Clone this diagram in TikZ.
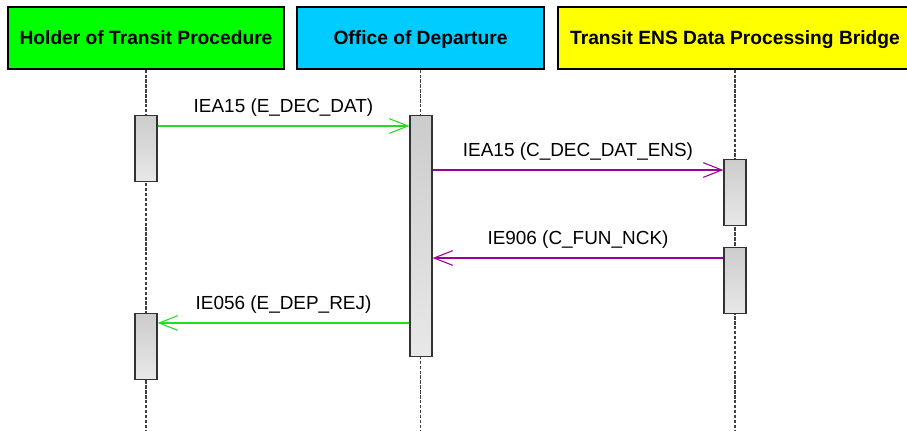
\documentclass[tikz,border=0pt]{standalone}
\usepackage{fontspec}
\setmainfont{Liberation Sans}
\usetikzlibrary{arrows.meta, positioning, calc}
\definecolor{hdrgreen}{HTML}{00FF00}
\definecolor{hdrcyan}{HTML}{00CCFF}
\definecolor{hdryellow}{HTML}{FFFF00}
\definecolor{msggreen}{HTML}{22DD22}
\definecolor{msgpurple}{HTML}{990099}
\definecolor{lifegray}{HTML}{404040}
\newcommand{\pxu}{0.75pt}

\tikzset{
  header/.style={draw=black, line width=0.9pt, minimum height=62*\pxu,
                 inner sep=0pt, text height=1.1em, text depth=0.2em,
                 font=\fontsize{14.4}{17}\selectfont\bfseries},
  actbar/.style={draw=black!80, line width=0.9pt, top color=black!20,
                 bottom color=black!9, minimum width=22*\pxu, anchor=north,
                 inner sep=0pt},
  lifeline/.style={lifegray, line width=0.8pt, dash pattern=on 2.5pt off 1.2pt},
  msg/.style={line width=0.8pt, -{Straight Barb[length=14pt, width=11pt]}},
  msglabel/.style={above=7pt, inner sep=0pt, text=black,
                   font=\fontsize{14.2}{17}\selectfont},
}

\begin{document}
\begin{tikzpicture}[x=\pxu, y=-\pxu]
  \useasboundingbox (0,0) rectangle (907,430);
  \coordinate (bottom) at (0,430);

  % lifeline heads
  \node[header, fill=hdrgreen, minimum width=276*\pxu] (holder) at (146,38)
    {Holder of Transit Procedure};
  \node[header, fill=hdrcyan, minimum width=247*\pxu] (office) at (420.5,38)
    {Office of Departure};
  \node[header, fill=hdryellow, minimum width=354*\pxu] (bridge) at (735,38)
    {Transit ENS Data Processing Bridge};

  \draw[lifeline] (holder.south) -- (holder.south |- bottom);
  \draw[lifeline] (office.south) -- (office.south |- bottom);
  \draw[lifeline] (bridge.south) -- (bridge.south |- bottom);

  % activations
  \node[actbar, minimum height=66*\pxu] (hA) at (146,115) {};
  \node[actbar, minimum height=66*\pxu] (hB) at (146,313) {};
  \node[actbar, minimum height=241*\pxu] (oA) at (421,115) {};
  \node[actbar, minimum height=66*\pxu] (bA) at (735,159) {};
  \node[actbar, minimum height=66*\pxu] (bB) at (735,247) {};

  % messages
  \draw[msg, msggreen] ($(hA.north east)+(0,11)$) --
    node[msglabel] {IEA15 (E\_DEC\_DAT)} ($(oA.north west)+(0,11)$);
  \draw[msg, msgpurple] ($(oA.east |- bA.north)+(0,11)$) --
    node[msglabel] {IEA15 (C\_DEC\_DAT\_ENS)} ($(bA.north west)+(0,11)$);
  \draw[msg, msgpurple] ($(bB.north west)+(0,11)$) --
    node[msglabel] {IE906 (C\_FUN\_NCK)} ($(oA.east |- bB.north)+(0,11)$);
  \draw[msg, msggreen] ($(oA.west |- hB.north)+(0,10)$) --
    node[msglabel] {IE056 (E\_DEP\_REJ)} ($(hB.north east)+(0,10)$);
\end{tikzpicture}
\end{document}
